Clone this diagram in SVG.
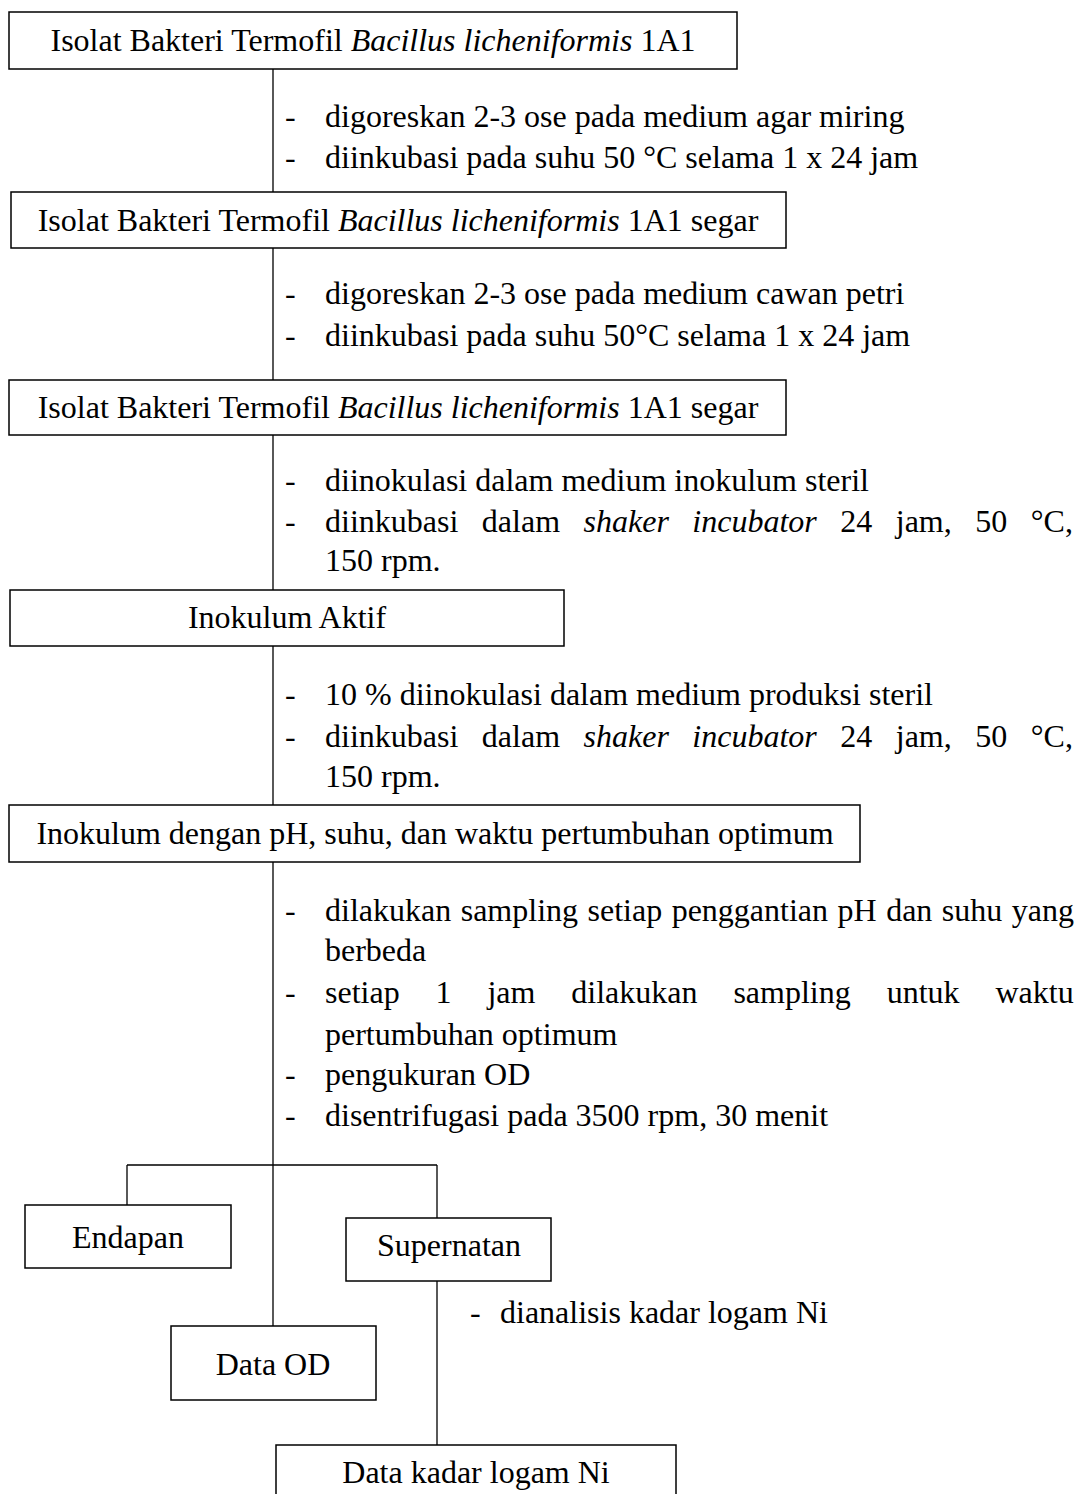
<svg xmlns="http://www.w3.org/2000/svg" width="1083" height="1494" viewBox="0 0 1083 1494">
<style>
.box{fill:#fff;stroke:#000;stroke-width:1.5}
.ln{stroke:#000;stroke-width:1.3;fill:none}
text{font-family:"Liberation Serif","Times New Roman",serif;font-size:32px;fill:#000}
.c{text-anchor:middle}
.i{font-style:italic}
</style>
<rect width="1083" height="1494" fill="#fff"/>
<g id="connectors">
<path class="ln" d="M273 69V192M273 248V380M273 435V590M273 646V805M273 862V1326M127 1165H437M127 1165V1205M437 1165V1218M437 1281V1445"/>
</g>
<g id="n1"><rect class="box" x="9" y="12" width="728" height="57"/><text class="c" x="373" y="51">Isolat Bakteri Termofil <tspan class="i">Bacillus licheniformis</tspan> 1A1</text></g>
<g id="s1"><text x="285" y="127">-</text><text x="325" y="127">digoreskan 2-3 ose pada medium agar miring</text><text x="285" y="168">-</text><text x="325" y="168">diinkubasi pada suhu 50 °C selama 1 x 24 jam</text></g>
<g id="n2"><rect class="box" x="11" y="192" width="775" height="56"/><text class="c" x="398" y="231">Isolat Bakteri Termofil <tspan class="i">Bacillus licheniformis</tspan> 1A1 segar</text></g>
<g id="s2"><text x="285" y="304">-</text><text x="325" y="304">digoreskan 2-3 ose pada medium cawan petri</text><text x="285" y="346">-</text><text x="325" y="346">diinkubasi pada suhu 50°C selama 1 x 24 jam</text></g>
<g id="n3"><rect class="box" x="9" y="380" width="777" height="55"/><text class="c" x="398" y="418">Isolat Bakteri Termofil <tspan class="i">Bacillus licheniformis</tspan> 1A1 segar</text></g>
<g id="s3"><text x="285" y="491">-</text><text x="325" y="491">diinokulasi dalam medium inokulum steril</text><text x="285" y="532">-</text><text x="325" y="532" word-spacing="15.5">diinkubasi dalam <tspan class="i">shaker incubator</tspan> 24 jam, 50 °C,</text><text x="325" y="571">150 rpm.</text></g>
<g id="n4"><rect class="box" x="10" y="590" width="554" height="56"/><text class="c" x="287" y="628">Inokulum Aktif</text></g>
<g id="s4"><text x="285" y="705">-</text><text x="325" y="705">10 % diinokulasi dalam medium produksi steril</text><text x="285" y="747">-</text><text x="325" y="747" word-spacing="15.5">diinkubasi dalam <tspan class="i">shaker incubator</tspan> 24 jam, 50 °C,</text><text x="325" y="787">150 rpm.</text></g>
<g id="n5"><rect class="box" x="9" y="805" width="851" height="57"/><text class="c" x="435" y="844">Inokulum dengan pH, suhu, dan waktu pertumbuhan optimum</text></g>
<g id="s5"><text x="285" y="921">-</text><text x="325" y="921" word-spacing="1.5">dilakukan sampling setiap penggantian pH dan suhu yang</text><text x="325" y="961">berbeda</text><text x="285" y="1003">-</text><text x="325" y="1003" word-spacing="27.9">setiap 1 jam dilakukan sampling untuk waktu</text><text x="325" y="1045">pertumbuhan optimum</text><text x="285" y="1085">-</text><text x="325" y="1085">pengukuran OD</text><text x="285" y="1126">-</text><text x="325" y="1126">disentrifugasi pada 3500 rpm, 30 menit</text></g>
<g id="n6"><rect class="box" x="25" y="1205" width="206" height="63"/><text class="c" x="128" y="1248">Endapan</text></g>
<g id="n7"><rect class="box" x="346" y="1218" width="205" height="63"/><text class="c" x="449" y="1256">Supernatan</text></g>
<g id="s6"><text x="470" y="1323">-</text><text x="500" y="1323">dianalisis kadar logam Ni</text></g>
<g id="n8"><rect class="box" x="171" y="1326" width="205" height="74"/><text class="c" x="273" y="1375">Data OD</text></g>
<g id="n9"><rect class="box" x="276" y="1445" width="400" height="70"/><text class="c" x="476" y="1483">Data kadar logam Ni</text></g>
</svg>
